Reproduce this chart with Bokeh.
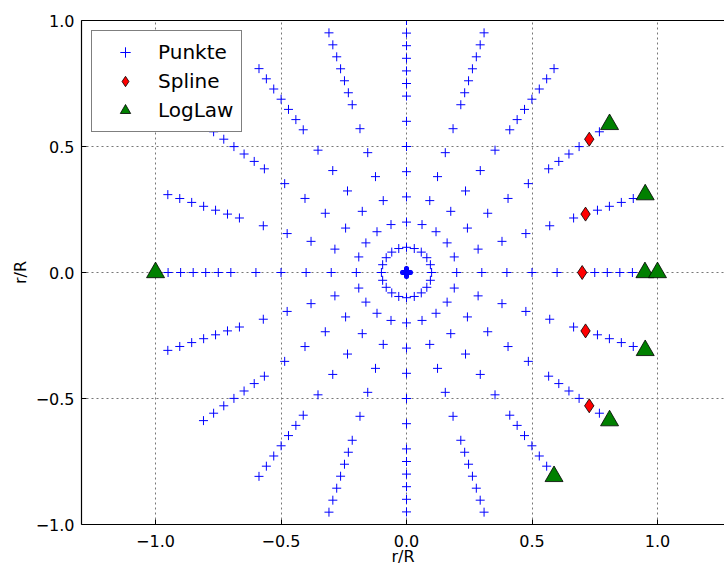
import numpy as np
from bokeh.plotting import figure
from bokeh.models import Range1d, FixedTicker, LinearAxis, Legend, LegendItem, CustomJSTickFormatter
from bokeh.embed import file_html
from bokeh.resources import INLINE

# ---- data ----
ray_angles_deg = [0, 18, 36, 54, 72, 90, 108, 126, 144, 162,
                  180, 198, 216, 234, 252, 270, 288, 306, 324, 342]
point_radii = [0.008, 0.1, 0.2, 0.3, 0.4, 0.5, 0.6, 0.7, 0.75, 0.8, 0.85, 0.9, 0.95, 1.0]

spline_angles_deg = [0, 18, 36, -18, -36]
spline_radii = [0.70, 0.75, 0.90, 0.75, 0.90]

loglaw_angles_deg = [0, 0, 18, 36, -18, -36, -54, 180]
loglaw_radii = [0.95, 1.0, 1.0, 1.0, 1.0, 1.0, 1.0, 1.0]

tick_values = [-1.0, -0.5, 0.0, 0.5, 1.0]
x_label = "r/R"
y_label = "r/R"

# ---- polar -> cartesian ----
R, A = np.meshgrid(point_radii, np.deg2rad(ray_angles_deg))
px = (R * np.cos(A)).ravel()
py = (R * np.sin(A)).ravel()

sa = np.deg2rad(spline_angles_deg)
sx = np.array(spline_radii) * np.cos(sa)
sy = np.array(spline_radii) * np.sin(sa)

la = np.deg2rad(loglaw_angles_deg)
lx = np.array(loglaw_radii) * np.cos(la)
ly = np.array(loglaw_radii) * np.sin(la)

FONT = "DejaVu Sans"

p = figure(width=724, height=568, output_backend="svg", toolbar_location=None,
           x_range=Range1d(-1.295, 1.267), y_range=Range1d(-1.0, 1.0),
           min_border_left=81, min_border_right=0, min_border_top=20, min_border_bottom=44)
p.outline_line_color = None
p.background_fill_color = "white"
p.border_fill_color = "white"

fmt = CustomJSTickFormatter(code="return tick.toFixed(1).replace('-', '\u2212');")

for ax in (p.xaxis[0], p.yaxis[0]):
    ax.ticker = FixedTicker(ticks=tick_values)
    ax.formatter = fmt
    ax.major_tick_in = 5
    ax.major_tick_out = 0
    ax.minor_tick_line_color = None
    ax.axis_line_color = "black"
    ax.axis_line_width = 1.2
    ax.major_tick_line_color = "black"
    ax.major_label_text_font = FONT
    ax.major_label_text_font_size = "16px"
    ax.major_label_text_color = "black"
    ax.axis_label_text_font = FONT
    ax.axis_label_text_font_size = "16px"
    ax.axis_label_text_font_style = "normal"
    ax.axis_label_text_color = "black"

p.xaxis[0].axis_label = x_label
p.yaxis[0].axis_label = y_label
p.xaxis[0].major_label_standoff = 10
p.xaxis[0].axis_label_standoff = -3
p.yaxis[0].major_label_standoff = 7
p.yaxis[0].axis_label_standoff = 3

# top spine (no labels)
top = LinearAxis(ticker=FixedTicker(ticks=[]), minor_tick_line_color=None,
                 axis_line_color="black", axis_line_width=1.2,
                 major_tick_in=0, major_tick_out=0, major_label_standoff=0)
p.add_layout(top, "above")

for g in (p.xgrid[0], p.ygrid[0]):
    g.ticker = FixedTicker(ticks=tick_values)
    g.grid_line_color = "#777777"
    g.grid_line_dash = "2 3"
    g.grid_line_width = 1

r_pts = p.scatter(px, py, marker="cross", size=9, line_color="blue", line_width=1)
r_spl = p.scatter(sx, sy, marker="diamond", size=14, fill_color="red",
                  line_color="black", line_width=0.8)
r_log = p.scatter(lx, ly, marker="triangle", size=18, fill_color="green",
                  line_color="black", line_width=0.8)

legend = Legend(items=[LegendItem(label="Punkte", renderers=[r_pts]),
                       LegendItem(label="Spline", renderers=[r_spl]),
                       LegendItem(label="LogLaw", renderers=[r_log])],
                location="top_left")
legend.margin = 10
legend.padding = 8
legend.spacing = 3
legend.glyph_width = 50
legend.glyph_height = 26
legend.label_height = 26
legend.label_standoff = 8
legend.label_text_font = FONT
legend.label_text_font_size = "20px"
legend.label_text_color = "black"
legend.border_line_color = "black"
legend.border_line_width = 1.5
legend.background_fill_color = "white"
legend.background_fill_alpha = 1.0
p.add_layout(legend)

open("out.html", "w").write(file_html(p, INLINE))
